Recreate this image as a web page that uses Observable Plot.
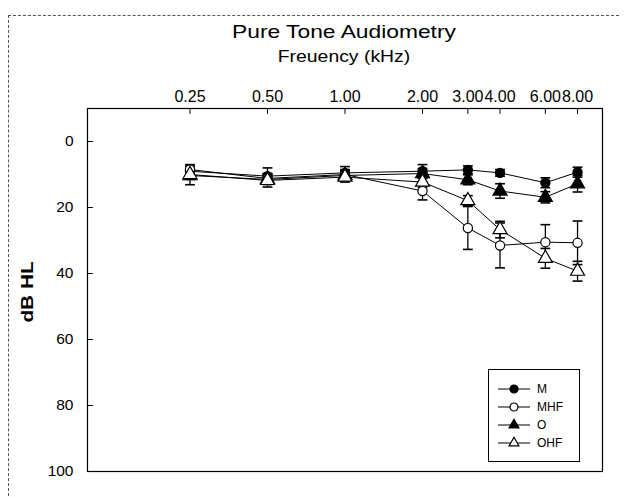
<!DOCTYPE html>
<html>
<head>
<meta charset="utf-8">
<script src="https://cdn.jsdelivr.net/npm/d3@7"></script>
<script src="https://cdn.jsdelivr.net/npm/@observablehq/plot@0.6"></script>
<style>
  html, body { margin: 0; padding: 0; background: #fff; }
  #wrap { position: relative; width: 627px; height: 497px; overflow: hidden; font-family: "Liberation Sans", Arial, sans-serif; color: #000; }
  #frameart { position: absolute; left: 8px; top: 15px; width: 610px; height: 490px; border-top: 1px dashed #555; border-left: 1px dashed #555; }
  .ttl { position: absolute; left: 244px; width: 200px; text-align: center; line-height: 1; white-space: nowrap; }
  #title { top: 22px; font-size: 19px; transform: scaleX(1.2); }
  #subtitle { top: 48px; font-size: 17px; transform: scaleX(1.14); }
  #ylabel { position: absolute; left: 28px; top: 292px; transform: translate(-50%, -50%) rotate(-90deg) scaleX(1.3); font-size: 16px; font-weight: bold; white-space: nowrap; line-height: 1; }
  #chart { position: absolute; left: 0; top: 0; }
  #legend { position: absolute; left: 488px; top: 369px; }
</style>
</head>
<body>
<div id="wrap">
  <div id="frameart"></div>
  <div id="chart"></div>
  <div id="title" class="ttl">Pure Tone Audiometry</div>
  <div id="subtitle" class="ttl">Freuency (kHz)</div>
  <div id="ylabel">dB HL</div>
  <div id="legend"></div>
</div>
<script>
// Frequencies (kHz) and tick labels
const freqs = [0.25, 0.5, 1, 2, 3, 4, 6, 8];
const xTicks = [0.25, 0.5, 1, 2, 3, 4, 6, 8];
const yTicks = [0, 20, 40, 60, 80, 100];

// Series means (dB HL) and error half-widths
const seriesNames = ["M", "MHF", "O", "OHF"];
const M      = [9.0, 10.5, 9.5, 9.0, 8.6, 9.5, 12.5, 9.3];
const M_err  = [1.5, 2.5, 1.9, 2.0, 1.2, 1.0, 1.5, 1.5];
const MHF     = [8.5, 11.2, 10.0, 15.0, 26.2, 31.5, 30.5, 30.7];
const MHF_err = [1.5, 1.5, 1.5, 2.7, 6.5, 6.8, 5.3, 6.6];
const O      = [10.3, 11.5, 10.3, 9.7, 11.6, 15.0, 16.9, 12.8];
const O_err  = [2.8, 1.5, 1.5, 1.5, 1.5, 2.2, 1.7, 2.5];
const OHF     = [10.0, 11.8, 10.8, 12.3, 17.9, 26.7, 35.4, 39.3];
const OHF_err = [1.5, 2.0, 1.5, 1.5, 1.5, 2.5, 3.0, 3.0];

const styles = {
  M:   {symbol: "circle",   fill: "black"},
  MHF: {symbol: "circle",   fill: "white"},
  O:   {symbol: "triangle", fill: "black"},
  OHF: {symbol: "triangle", fill: "white"}
};

const means = {M, MHF, O, OHF};
const errs = {M: M_err, MHF: MHF_err, O: O_err, OHF: OHF_err};
const data = [];
for (const s of seriesNames) {
  freqs.forEach((f, i) => {
    data.push({series: s, f, v: means[s][i], lo: means[s][i] - errs[s][i], hi: means[s][i] + errs[s][i]});
  });
}
const capK = 1.045;
const fmtX = d3.format(".2f");
const ff = "Liberation Sans, Arial, sans-serif";

const tickDown = {draw(ctx, l) { ctx.moveTo(0, 0); ctx.lineTo(0, l); }};
const tickRight = {draw(ctx, l) { ctx.moveTo(0, 0); ctx.lineTo(l, 0); }};

const chart = Plot.plot({
  width: 627,
  height: 497,
  marginLeft: 87,
  marginRight: 25,
  marginTop: 108,
  marginBottom: 26,
  style: {background: "transparent", fontFamily: ff, color: "black"},
  x: {type: "log", domain: [0.1, 10], axis: null},
  y: {domain: [-10, 100], reverse: true, axis: null},
  marks: [
    Plot.frame({stroke: "black", strokeWidth: 1.2}),
    Plot.vector(xTicks, {x: d => d, frameAnchor: "top", length: 5, shape: tickDown, anchor: "start", stroke: "black", strokeWidth: 1}),
    Plot.vector(yTicks, {y: d => d, frameAnchor: "left", length: 5, shape: tickRight, anchor: "start", stroke: "black", strokeWidth: 1}),
    Plot.text(xTicks, {x: d => d, frameAnchor: "top", dy: -7, lineAnchor: "bottom", text: d => fmtX(d), fontSize: 16, fill: "black"}),
    Plot.text(yTicks, {y: d => d, frameAnchor: "left", dx: -14, textAnchor: "end", text: d => String(d), fontSize: 15.5, fill: "black"}),
    Plot.line(data, {x: "f", y: "v", z: "series", stroke: "black", strokeWidth: 1}),
    Plot.ruleX(data, {x: "f", y1: "lo", y2: "hi", stroke: "black", strokeWidth: 1.3}),
    Plot.link(data, {x1: d => d.f / capK, x2: d => d.f * capK, y1: "lo", y2: "lo", stroke: "black", strokeWidth: 1.6}),
    Plot.link(data, {x1: d => d.f / capK, x2: d => d.f * capK, y1: "hi", y2: "hi", stroke: "black", strokeWidth: 1.6}),
    ...seriesNames.map(s => Plot.dot(data.filter(d => d.series === s), {
      x: "f", y: "v", symbol: () => styles[s].symbol, r: styles[s].symbol === "circle" ? 4.6 : 5.2,
      fill: styles[s].fill, stroke: "black", strokeWidth: 1.2
    }))
  ]
});
document.getElementById("chart").appendChild(chart);

// Legend
const lg = d3.select("#legend").append("svg").attr("width", 93).attr("height", 94);
lg.append("rect").attr("x", 0.5).attr("y", 0.5).attr("width", 91).attr("height", 92).attr("fill", "white").attr("stroke", "black").attr("stroke-width", 1);
seriesNames.forEach((s, i) => {
  const y = 20 + i * 18;
  lg.append("line").attr("x1", 10).attr("x2", 42).attr("y1", y).attr("y2", y).attr("stroke", "black");
  const sym = styles[s].symbol === "circle" ? d3.symbolCircle : d3.symbolTriangle;
  const size = styles[s].symbol === "circle" ? Math.PI * 4 * 4 : 42;
  lg.append("path").attr("d", d3.symbol(sym, size)()).attr("transform", `translate(26,${y})`)
    .attr("fill", styles[s].fill).attr("stroke", "black").attr("stroke-width", 1.2);
  lg.append("text").attr("x", 49).attr("y", y).attr("dy", "0.36em").attr("font-size", 12)
    .attr("font-family", ff).text(s);
});
</script>
</body>
</html>
